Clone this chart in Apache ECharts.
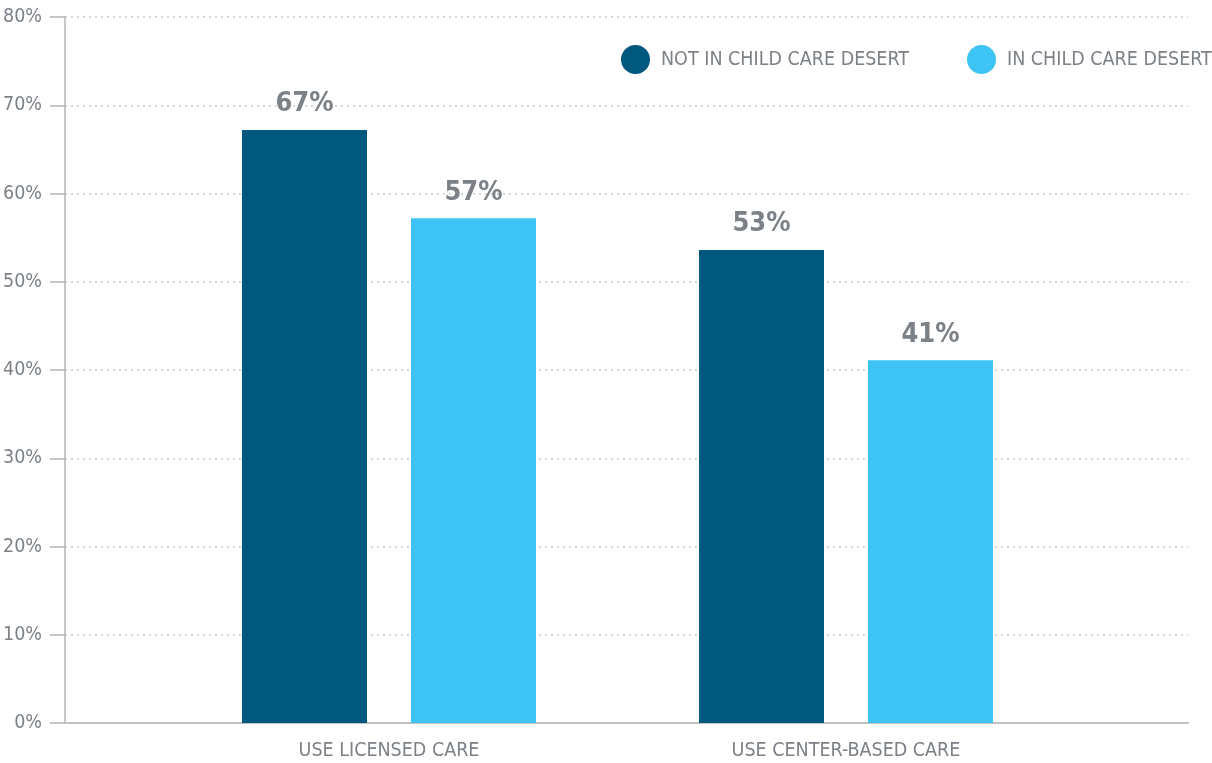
<!DOCTYPE html>
<html>
<head>
<meta charset="utf-8">
<script src="https://cdn.jsdelivr.net/npm/echarts@6/dist/echarts.min.js"></script>
<style>
html,body{margin:0;padding:0;background:#fff;}
#chart{width:1212px;height:763px;}
</style>
</head>
<body>
<div id="chart"></div>
<script>
const categories = ['USE LICENSED CARE', 'USE CENTER-BASED CARE'];
const seriesNames = ['NOT IN CHILD CARE DESERT', 'IN CHILD CARE DESERT'];
const notInDesert = [67.2, 53.6];
const inDesert = [57.2, 41.1];
const yTicks = [0, 10, 20, 30, 40, 50, 60, 70, 80];

const FONT = "'DejaVu Sans Condensed', 'Liberation Sans Narrow', sans-serif";
const GRAY = '#7c8188';
const DARK = '#00587f';
const LIGHT = '#3dc4f4';

const chart = echarts.init(document.getElementById('chart'));
const labelCfg = {
  show: true,
  position: 'top',
  distance: 12,
  color: GRAY,
  fontFamily: FONT,
  fontWeight: 'bold',
  fontSize: 27,
  formatter: p => Math.floor(p.value) + '%'
};
const legendText = { color: GRAY, fontSize: 19.5, fontFamily: FONT, padding: [0, 0, 0, 6] };
chart.setOption({
  animation: false,
  textStyle: { fontFamily: FONT },
  legend: [
    {
      data: [seriesNames[0]], left: 621, top: 45, icon: 'circle', padding: 0,
      itemWidth: 29, itemHeight: 29, textStyle: legendText
    },
    {
      data: [seriesNames[1]], left: 967, top: 45, icon: 'circle', padding: 0,
      itemWidth: 29, itemHeight: 29, textStyle: legendText
    }
  ],
  grid: [
    { left: 65, right: 24, top: 17, bottom: 40, outerBoundsMode: 'none', containLabel: false },
    { left: 160.5, right: 137.5, top: 17, bottom: 40, outerBoundsMode: 'none', containLabel: false }
  ],
  xAxis: [
    {
      gridIndex: 0, type: 'value', min: 0, max: 1,
      axisLine: { show: true, lineStyle: { color: '#c2c2c2', width: 2 } },
      axisTick: { show: false }, axisLabel: { show: false }, splitLine: { show: false }
    },
    {
      gridIndex: 1, type: 'category', data: categories,
      axisLine: { show: false }, axisTick: { show: false },
      axisLabel: { color: GRAY, fontSize: 19.5, fontFamily: FONT, margin: 18 }
    }
  ],
  yAxis: [
    {
      gridIndex: 0, type: 'value', min: yTicks[0], max: yTicks[yTicks.length - 1], interval: 10,
      axisLine: { show: true, lineStyle: { color: '#b5b5b5', width: 1.5 } },
      axisTick: { show: true, length: 15, lineStyle: { color: '#b5b5b5', width: 1.5 } },
      axisLabel: { color: GRAY, fontSize: 19.5, fontFamily: FONT, margin: 23, formatter: '{value}%' },
      splitLine: { show: true, lineStyle: { color: '#d6d6d6', width: 2, type: [2, 4] } }
    },
    {
      gridIndex: 1, type: 'value', min: yTicks[0], max: yTicks[yTicks.length - 1],
      show: false, splitLine: { show: false }
    }
  ],
  series: [
    {
      name: seriesNames[0], type: 'bar', xAxisIndex: 1, yAxisIndex: 1,
      data: notInDesert, barWidth: 125, barGap: '35.2%',
      itemStyle: { color: DARK }, label: labelCfg
    },
    {
      name: seriesNames[1], type: 'bar', xAxisIndex: 1, yAxisIndex: 1,
      data: inDesert, barWidth: 125, barGap: '35.2%',
      itemStyle: { color: LIGHT }, label: labelCfg
    }
  ]
});
</script>
</body>
</html>
